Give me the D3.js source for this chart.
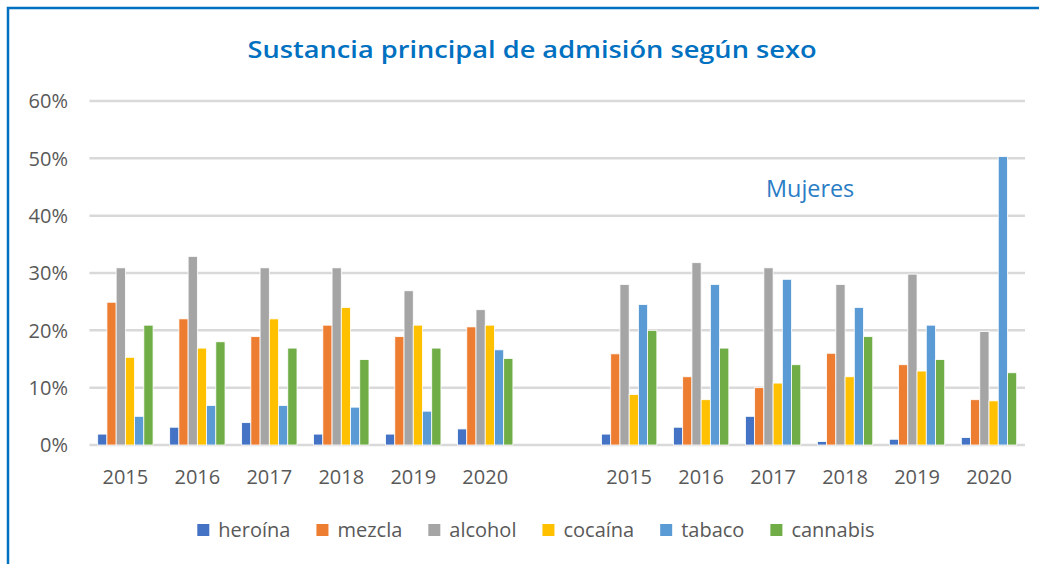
<!DOCTYPE html>
<html>
<head>
<meta charset="utf-8">
<script src="https://cdn.jsdelivr.net/npm/d3@7"></script>
<style>
  body { margin: 0; background: #fff; }
  text { font-family: "Open Sans", sans-serif; }
</style>
</head>
<body>
<svg id="chart" width="1039" height="564"></svg>
<script>
// categories: hombres 2015-2020, empty slot, mujeres 2015-2020
var categories = ["h2015", "h2016", "h2017", "h2018", "h2019", "h2020", "gap",
                  "m2015", "m2016", "m2017", "m2018", "m2019", "m2020"];
var categoryLabels = ["2015", "2016", "2017", "2018", "2019", "2020", "",
                      "2015", "2016", "2017", "2018", "2019", "2020"];

var seriesNames = ["heroína", "mezcla", "alcohol", "cocaína", "tabaco", "cannabis"];
var seriesColors = ["#4472C4", "#ED7D31", "#A5A5A5", "#FFC000", "#5B9BD5", "#70AD47"];

// values in %, null for the empty slot
var heroina  = [1.9, 3.1, 3.9, 1.9, 1.9, 2.8, null, 1.9, 3.1, 5.0, 0.6, 1.0, 1.3];
var mezcla   = [24.9, 22.0, 18.9, 20.9, 18.9, 20.6, null, 15.9, 11.9, 10.0, 16.0, 14.0, 7.9];
var alcohol  = [30.9, 32.9, 30.9, 30.9, 26.9, 23.6, null, 28.0, 31.8, 30.9, 28.0, 29.8, 19.8];
var cocaina  = [15.3, 16.9, 22.0, 24.0, 20.9, 20.9, null, 8.8, 7.9, 10.8, 11.9, 12.9, 7.7];
var tabaco   = [5.0, 6.9, 6.9, 6.6, 5.9, 16.6, null, 24.5, 28.0, 28.9, 24.0, 20.9, 50.3];
var cannabis = [20.9, 18.0, 16.9, 14.9, 16.9, 15.1, null, 20.0, 16.9, 14.0, 18.9, 14.9, 12.6];

var yTicks = [0, 10, 20, 30, 40, 50, 60];

var allSeries = [heroina, mezcla, alcohol, cocaina, tabaco, cannabis];

var svg = d3.select("#chart");

// frame
svg.append("rect")
    .attr("x", 8).attr("y", 8)
    .attr("width", 1060).attr("height", 600)
    .attr("fill", "#fff")
    .attr("stroke", "#0070C0")
    .attr("stroke-width", 2.5);

var x = d3.scaleBand()
    .domain(categories)
    .range([89.4, 1025]);

var x1 = d3.scaleBand()
    .domain(seriesNames)
    .range([8.3, x.bandwidth() - 8.3]);

var y = d3.scaleLinear()
    .domain([0, 60])
    .range([445, 101]);

// gridlines
svg.append("g")
    .selectAll("line")
    .data(yTicks)
    .join("line")
    .attr("x1", 89.4)
    .attr("x2", 1025)
    .attr("y1", function(d) { return y(d); })
    .attr("y2", function(d) { return y(d); })
    .attr("stroke", "#D9D9D9")
    .attr("stroke-width", 2.5);

// y tick labels
svg.append("g")
    .selectAll("text")
    .data(yTicks)
    .join("text")
    .attr("x", 68)
    .attr("y", function(d) { return y(d); })
    .attr("dy", "0.36em")
    .attr("text-anchor", "end")
    .attr("font-size", 20)
    .attr("fill", "#595959")
    .text(function(d) { return d + "%"; });

// bars
var groups = svg.append("g")
    .selectAll("g")
    .data(categories)
    .join("g")
    .attr("transform", function(d) { return "translate(" + x(d) + ",0)"; });

groups.selectAll("rect")
    .data(function(d, i) {
      return seriesNames.map(function(s, j) {
        return { name: s, color: seriesColors[j], value: allSeries[j][i] };
      }).filter(function(e) { return e.value != null; });
    })
    .join("rect")
    .attr("x", function(d) { return x1(d.name); })
    .attr("width", x1.bandwidth())
    .attr("y", function(d) { return y(d.value); })
    .attr("height", function(d) { return y(0) - y(d.value); })
    .attr("fill", function(d) { return d.color; })
    .attr("stroke", "#fff")
    .attr("stroke-width", 0.8);

// x labels
svg.append("g")
    .selectAll("text")
    .data(categories)
    .join("text")
    .attr("x", function(d) { return x(d) + x.bandwidth() / 2; })
    .attr("y", 484)
    .attr("text-anchor", "middle")
    .attr("font-size", 20)
    .attr("fill", "#595959")
    .text(function(d, i) { return categoryLabels[i]; });

// title
svg.append("text")
    .attr("x", 532)
    .attr("y", 58)
    .attr("text-anchor", "middle")
    .attr("font-size", 24)
    .attr("font-weight", 600)
    .attr("fill", "#0070C0")
    .attr("textLength", 569)
    .attr("lengthAdjust", "spacingAndGlyphs")
    .text("Sustancia principal de admisión según sexo");

// annotation
svg.append("text")
    .attr("x", 766)
    .attr("y", 197)
    .attr("font-size", 23.4)
    .attr("fill", "#2A7DC5")
    .text("Mujeres");

// legend
var legend = svg.append("g");
var lx = 197.3;
seriesNames.forEach(function(s, i) {
  legend.append("rect")
      .attr("x", lx).attr("y", 524)
      .attr("width", 12).attr("height", 12)
      .attr("fill", seriesColors[i]);
  var t = legend.append("text")
      .attr("x", lx + 21)
      .attr("y", 537)
      .attr("font-size", 20)
      .attr("fill", "#595959")
      .text(s);
  lx += 21 + t.node().getComputedTextLength() + 26;
});
</script>
</body>
</html>
